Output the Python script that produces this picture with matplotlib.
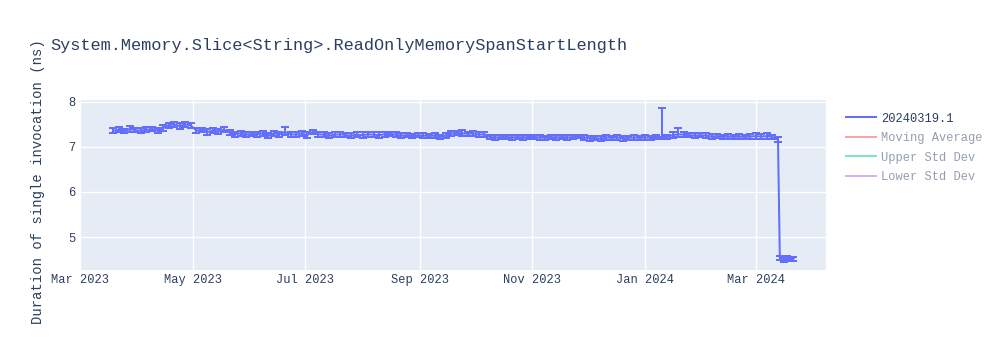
import matplotlib
matplotlib.use('Agg')
import matplotlib.pyplot as plt
import matplotlib.dates as mdates
from matplotlib.lines import Line2D
import pandas as pd
from datetime import datetime

# benchmark results, one run every 3 days, then the last runs after the drop
main_dates = pd.date_range("2023-03-19", "2024-03-13", freq="3D")
tail_dates = pd.to_datetime(["2024-03-14", "2024-03-16", "2024-03-18", "2024-03-20", "2024-03-21"])
dates = list(main_dates) + list(tail_dates)

values = [7.36, 7.38, 7.35, 7.40, 7.37, 7.36, 7.38, 7.40, 7.36, 7.42,
          7.48, 7.50, 7.46, 7.50, 7.48, 7.36, 7.38, 7.33, 7.36, 7.34,
          7.38, 7.32, 7.28, 7.30, 7.27, 7.29, 7.28, 7.30, 7.25, 7.30,
          7.28, 7.33, 7.28, 7.27, 7.30, 7.26, 7.33, 7.28, 7.27, 7.25,
          7.27, 7.28, 7.26, 7.25, 7.27, 7.26, 7.28, 7.27, 7.26, 7.28,
          7.29, 7.27, 7.25, 7.26, 7.24, 7.26, 7.25, 7.24, 7.25, 7.22,
          7.25, 7.30, 7.31, 7.30, 7.29, 7.30, 7.27, 7.28, 7.22, 7.21,
          7.22, 7.22, 7.21, 7.22, 7.21, 7.22, 7.22, 7.21, 7.20, 7.22,
          7.21, 7.22, 7.21, 7.22, 7.23, 7.21, 7.19, 7.20, 7.18, 7.21,
          7.20, 7.21, 7.19, 7.20, 7.21, 7.20, 7.21, 7.20, 7.22, 7.22,
          7.22, 7.26, 7.28, 7.27, 7.26, 7.25, 7.26, 7.25, 7.23, 7.24,
          7.22, 7.23, 7.22, 7.23, 7.22, 7.23, 7.24, 7.23, 7.24, 7.22,
          7.16,
          4.53, 4.50, 4.52, 4.50, 4.51]

errors = [0.05, 0.06, 0.05, 0.06, 0.05, 0.05, 0.06, 0.05, 0.05, 0.06,
          0.06, 0.05, 0.06, 0.06, 0.05, 0.06, 0.05, 0.06, 0.06, 0.05,
          0.06, 0.05, 0.05, 0.06, 0.05, 0.05, 0.06, 0.06, 0.05, 0.06,
          0.05, 0.06, 0.05, 0.06, 0.05, 0.06, 0.05, 0.05, 0.06, 0.05,
          0.05, 0.06, 0.05, 0.05, 0.05, 0.06, 0.05, 0.05, 0.06, 0.05,
          0.05, 0.05, 0.06, 0.05, 0.05, 0.05, 0.05, 0.05, 0.06, 0.05,
          0.05, 0.06, 0.05, 0.06, 0.05, 0.05, 0.06, 0.05, 0.05, 0.05,
          0.05, 0.05, 0.05, 0.04, 0.05, 0.05, 0.04, 0.05, 0.05, 0.05,
          0.05, 0.04, 0.05, 0.05, 0.04, 0.06, 0.05, 0.05, 0.06, 0.05,
          0.05, 0.05, 0.05, 0.04, 0.05, 0.05, 0.05, 0.04, 0.05, 0.05,
          0.05, 0.06, 0.05, 0.06, 0.05, 0.05, 0.05, 0.05, 0.05, 0.05,
          0.04, 0.05, 0.05, 0.05, 0.04, 0.05, 0.06, 0.05, 0.06, 0.05,
          0.05,
          0.04, 0.05, 0.05, 0.04, 0.04]

# upper error much bigger on a few runs
upper_spikes = {31: 0.11, 63: 0.07, 99: 0.64, 102: 0.13}

title = "System.Memory.Slice<String>.ReadOnlyMemorySpanStartLength"
ylabel = "Duration of single invocation (ns)"
legend_labels = ["20240319.1", "Moving Average", "Upper Std Dev", "Lower Std Dev"]
legend_colors = ["#636efa", "#EF553B", "#00cc96", "#ab63fa"]

upper = list(errors)
for i, e in upper_spikes.items():
    upper[i] = e

plt.rcParams['font.family'] = ['Liberation Mono', 'DejaVu Sans Mono']
text_color = "#2a3f5f"

fig = plt.figure(figsize=(10, 3.5), dpi=100)
ax = fig.add_axes([0.08, 0.2286, 0.746, 0.4857])
ax.set_facecolor("#E5ECF6")

ax.errorbar(dates, values, yerr=[errors, upper], color="#636efa", linewidth=1.44,
            elinewidth=1.44, capsize=2.9, capthick=1.44, zorder=3)

ax.set_xlim(datetime(2023, 3, 1), datetime(2024, 4, 8))
ax.set_ylim(4.27, 8.04)
ax.set_yticks([5, 6, 7, 8])
ax.xaxis.set_major_locator(mdates.MonthLocator(bymonth=[1, 3, 5, 7, 9, 11]))
ax.xaxis.set_major_formatter(mdates.DateFormatter("%b %Y"))

ax.grid(True, color="white", linewidth=1)
ax.set_axisbelow(True)
for s in ax.spines.values():
    s.set_visible(False)
ax.tick_params(length=0, labelsize=8.64, labelcolor=text_color, pad=3)

ax.set_ylabel(ylabel, fontsize=10, color=text_color)
ax.yaxis.set_label_coords(-0.047, 0.52)

fig.text(0.05, 0.869, title, fontsize=12.2, color=text_color, va="center", ha="left")

handles = []
for i, c in enumerate(legend_colors):
    handles.append(Line2D([0], [0], color=c, linewidth=1.44, alpha=1.0 if i == 0 else 0.5))
leg = fig.legend(handles, legend_labels, loc="upper left", bbox_to_anchor=(0.846, 0.678),
                 frameon=False, fontsize=8.64, handlelength=2.5, handletextpad=0.45,
                 labelspacing=0.62, borderpad=0, borderaxespad=0)
for i, t in enumerate(leg.get_texts()):
    t.set_color(text_color)
    if i > 0:
        t.set_alpha(0.5)

fig.savefig("out.png", dpi=100)
